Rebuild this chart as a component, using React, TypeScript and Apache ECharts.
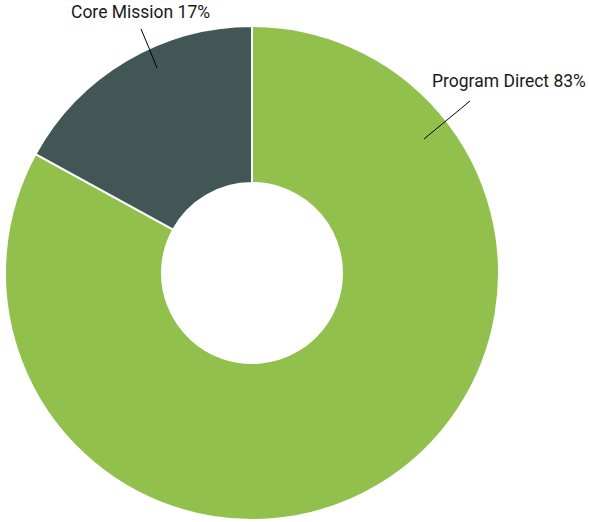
import React, { useEffect, useRef } from "react";
import * as echarts from "echarts";

const categories = ["Program Direct", "Core Mission"];
const values = [83, 17];
const colors = ["#92c04c", "#435656"];

export default function App() {
  const ref = useRef<HTMLDivElement>(null);
  useEffect(() => {
    document.body.style.margin = "0";
    const chart = echarts.init(ref.current!, null, { renderer: "svg" });
    const base = {
      type: "pie",
      center: [252, 273],
      radius: [90, 247],
      startAngle: 90,
      clockwise: true,
      avoidLabelOverlap: false,
    };
    chart.setOption({
      animation: false,
      backgroundColor: "#ffffff",
      series: [
        {
          ...base,
          z: 1,
          itemStyle: { borderColor: "#ffffff", borderWidth: 2 },
          label: { show: false },
          labelLine: { show: false },
          data: categories.map((c, i) => ({
            name: c,
            value: values[i],
            itemStyle: { color: colors[i] },
          })),
        },
        {
          ...base,
          z: 5,
          silent: true,
          itemStyle: { color: "rgba(0,0,0,0)", borderWidth: 0 },
          label: {
            show: true,
            position: "outside",
            formatter: (p: any) => `${p.name} ${p.value}%`,
            color: "#1a1a1a",
            fontFamily: "Roboto, sans-serif",
            fontSize: 17.5,
          },
          labelLine: { show: true, lineStyle: { color: "#000000", width: 1 } },
          labelLayout: (params: any) => {
            if (params.dataIndex === 0) {
              return {
                x: 432,
                y: 81,
                align: "left",
                verticalAlign: "middle",
                labelLinePoints: [
                  [424, 139],
                  [447, 120],
                  [470, 101],
                ],
              };
            }
            return {
              x: 71,
              y: 12,
              align: "left",
              verticalAlign: "middle",
              labelLinePoints: [
                [157, 68],
                [149, 48],
                [141, 29],
              ],
            };
          },
          data: categories.map((c, i) => ({ name: c, value: values[i] })),
        },
      ],
    });
    return () => chart.dispose();
  }, []);
  return (
    <div
      ref={ref}
      style={{ position: "absolute", left: 0, top: 0, width: 589, height: 522 }}
    />
  );
}
